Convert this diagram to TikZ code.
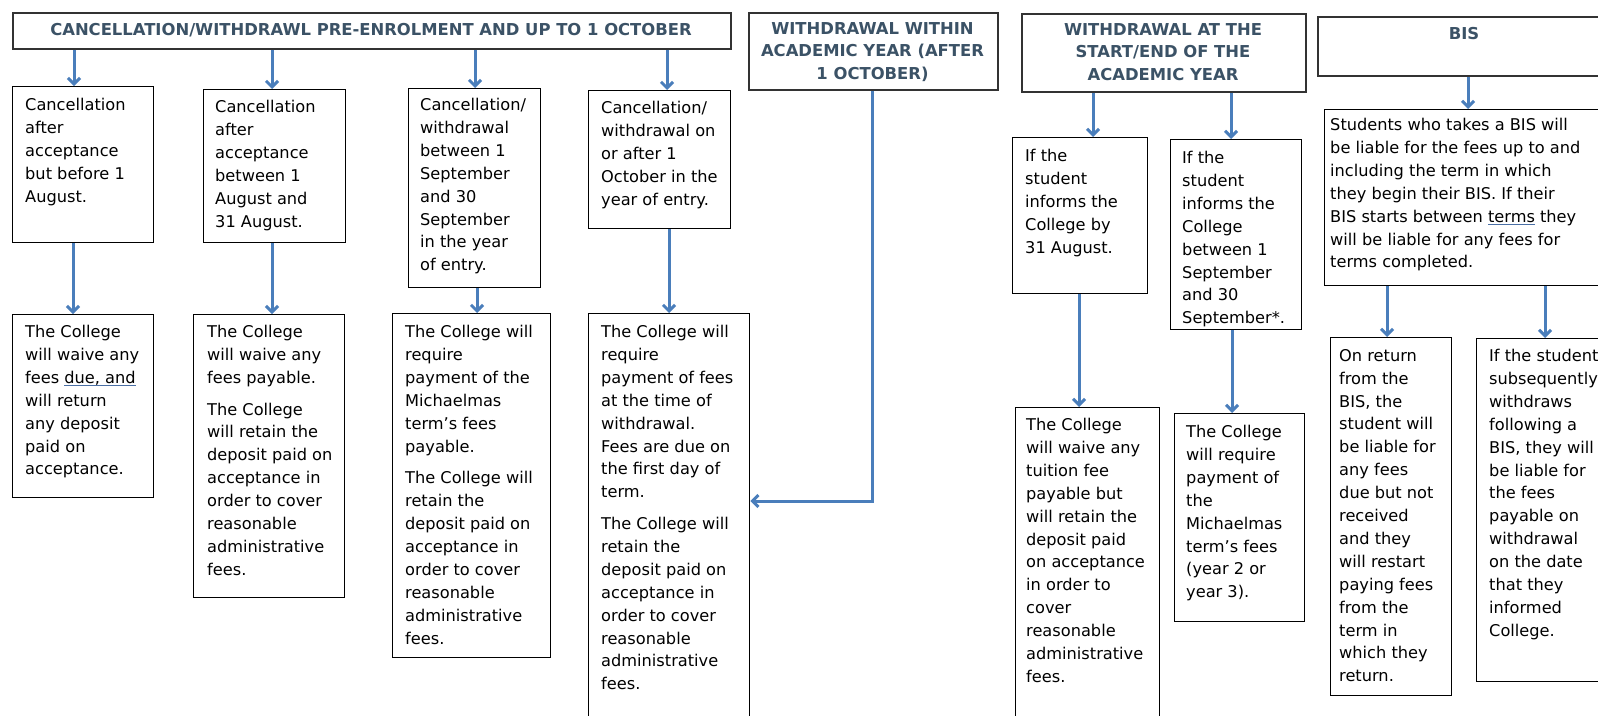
\documentclass[tikz,border=0pt]{standalone}
\usepackage{fontspec}
\setmainfont{DejaVu Sans}
\usetikzlibrary{arrows.meta}
\definecolor{arrowblue}{HTML}{4A7EBB}
\definecolor{headtext}{HTML}{3B5266}
\definecolor{headline}{HTML}{333333}
\definecolor{gram}{HTML}{4A6FA5}
\newcommand\gramu[1]{\setbox0=\hbox{#1}\rlap{\color{gram}\rule[-3pt]{\wd0}{0.9pt}}\box0\relax}
\begin{document}
\begin{tikzpicture}[x=1pt,y=-1pt,
  box/.style={draw=black,line width=1.3pt,rectangle,inner sep=0pt,anchor=north west},
  hbox/.style={draw=headline,line width=1.5pt,rectangle,inner sep=0pt,anchor=north west},
  txt/.style={inner sep=0pt,anchor=north west,align=left,text=black,font=\fontsize{16.2}{22.9}\selectfont},
  htxt/.style={inner sep=0pt,anchor=north,align=center,text=headtext,font=\fontsize{16.4}{22.6}\selectfont\bfseries},
  arr/.style={draw=arrowblue,line width=3pt,-{Straight Barb[length=6pt,width=12pt]}}]
\useasboundingbox (0,0) rectangle (1598,715);
\clip (0,0) rectangle (1598,715);
\fill[white] (0,0) rectangle (1598,715);

% headers
\node[hbox,minimum width=718pt,minimum height=36pt] (h1) at (12,12) {};
\node[htxt] (h1t) at (371,23) {CANCELLATION/WITHDRAWL PRE-ENROLMENT AND UP TO 1 OCTOBER};
\node[hbox,minimum width=249pt,minimum height=77pt] (h2) at (748,12) {};
\node[htxt] (h2t) at (872.5,22) {WITHDRAWAL WITHIN\\ACADEMIC YEAR (AFTER\\1 OCTOBER)};
\node[hbox,minimum width=284pt,minimum height=78pt] (h3) at (1021,13) {};
\node[htxt] (h3t) at (1163,23) {WITHDRAWAL AT THE\\START/END OF THE\\ACADEMIC YEAR};
\node[hbox,minimum width=294pt,minimum height=59pt] (h4) at (1317,16) {};
\node[htxt] (h4t) at (1464,27) {BIS};

% row A
\node[box,minimum width=141pt,minimum height=156pt] (a1) at (12,86) {};
\node[txt] (a1t) at (25,98) {Cancellation\\after\\acceptance\\but before 1\\August.};
\node[box,minimum width=142pt,minimum height=153pt] (a2) at (203,89) {};
\node[txt] (a2t) at (215,100) {Cancellation\\after\\acceptance\\between 1\\August and\\31 August.};
\node[box,minimum width=132pt,minimum height=199pt] (a3) at (408,88) {};
\node[txt] (a3t) at (420,98) {Cancellation/\\withdrawal\\between 1\\September\\and 30\\September\\in the year\\of entry.};
\node[box,minimum width=142pt,minimum height=138pt] (a4) at (588,90) {};
\node[txt] (a4t) at (601,101) {Cancellation/\\withdrawal on\\or after 1\\October in the\\year of entry.};

% row B
\node[box,minimum width=141pt,minimum height=183pt] (b1) at (12,314) {};
\node[txt] (b1t) at (25,325) {The College\\will waive any\\fees \gramu{due, and}\\will return\\any deposit\\paid on\\acceptance.};
\node[box,minimum width=151pt,minimum height=283pt] (b2) at (193,314) {};
\node[txt] (b2t) at (207,325) {The College\\will waive any\\fees payable.\\[8.8pt]The College\\will retain the\\deposit paid on\\acceptance in\\order to cover\\reasonable\\administrative\\fees.};
\node[box,minimum width=158pt,minimum height=344pt] (b3) at (392,313) {};
\node[txt] (b3t) at (405,325) {The College will\\require\\payment of the\\Michaelmas\\term’s fees\\payable.\\[8.8pt]The College will\\retain the\\deposit paid on\\acceptance in\\order to cover\\reasonable\\administrative\\fees.};
\node[box,minimum width=161pt,minimum height=420pt] (b4) at (588,313) {};
\node[txt] (b4t) at (601,325) {The College will\\require\\payment of fees\\at the time of\\withdrawal.\\Fees are due on\\the first day of\\term.\\[8.8pt]The College will\\retain the\\deposit paid on\\acceptance in\\order to cover\\reasonable\\administrative\\fees.};

% right part
\node[box,minimum width=135pt,minimum height=156pt] (c1) at (1012,137) {};
\node[txt] (c1t) at (1025,149) {If the\\student\\informs the\\College by\\31 August.};
\node[box,minimum width=131pt,minimum height=190pt] (c2) at (1170,139) {};
\node[txt] (c2t) at (1182,151) {If the\\student\\informs the\\College\\between 1\\September\\and 30\\September*.};
\node[box,minimum width=144pt,minimum height=330pt] (d1) at (1015,407) {};
\node[txt] (d1t) at (1026,418) {The College\\will waive any\\tuition fee\\payable but\\will retain the\\deposit paid\\on acceptance\\in order to\\cover\\reasonable\\administrative\\fees.};
\node[box,minimum width=130pt,minimum height=208pt] (d2) at (1174,413) {};
\node[txt] (d2t) at (1186,425) {The College\\will require\\payment of\\the\\Michaelmas\\term’s fees\\(year 2 or\\year 3).};
\node[box,minimum width=294pt,minimum height=176pt] (s) at (1324,109) {};
\node[txt] (st) at (1330,118) {Students who takes a BIS will\\be liable for the fees up to and\\including the term in which\\they begin their BIS. If their\\BIS starts between \gramu{terms} they\\will be liable for any fees for\\terms completed.};
\node[box,minimum width=121pt,minimum height=358pt] (e1) at (1330,337) {};
\node[txt] (e1t) at (1339,349) {On return\\from the\\BIS, the\\student will\\be liable for\\any fees\\due but not\\received\\and they\\will restart\\paying fees\\from the\\term in\\which they\\return.};
\node[box,minimum width=150pt,minimum height=343pt] (e2) at (1476,338) {};
\node[txt] (e2t) at (1489,349) {If the student\\subsequently\\withdraws\\following a\\BIS, they will\\be liable for\\the fees\\payable on\\withdrawal\\on the date\\that they\\informed\\College.};

% arrow columns
\coordinate (x1) at (74,0);
\coordinate (x2) at (272,0);
\coordinate (x3) at (475,0);
\coordinate (x4) at (667,0);
\coordinate (y1) at (73,0);
\coordinate (y2) at (272,0);
\coordinate (y3) at (477,0);
\coordinate (y4) at (669,0);
\coordinate (z1) at (1093,0);
\coordinate (z2) at (1231,0);
\coordinate (w1) at (1079,0);
\coordinate (w2) at (1232,0);
\coordinate (v0) at (1468,0);
\coordinate (v1) at (1387,0);
\coordinate (v2) at (1545,0);
\coordinate (k) at (872,501);

\draw[arr] (h1.south -| x1) -- (a1.north -| x1);
\draw[arr] (h1.south -| x2) -- (a2.north -| x2);
\draw[arr] (h1.south -| x3) -- (a3.north -| x3);
\draw[arr] (h1.south -| x4) -- (a4.north -| x4);
\draw[arr] (a1.south -| y1) -- (b1.north -| y1);
\draw[arr] (a2.south -| y2) -- (b2.north -| y2);
\draw[arr] (a3.south -| y3) -- (b3.north -| y3);
\draw[arr] (a4.south -| y4) -- (b4.north -| y4);
\draw[arr] (h2.south -| k) -- (k) -- (k -| b4.east);
\draw[arr] (h3.south -| z1) -- (c1.north -| z1);
\draw[arr] (h3.south -| z2) -- (c2.north -| z2);
\draw[arr] (c1.south -| w1) -- (d1.north -| w1);
\draw[arr] (c2.south -| w2) -- (d2.north -| w2);
\draw[arr] (h4.south -| v0) -- (s.north -| v0);
\draw[arr] (s.south -| v1) -- (e1.north -| v1);
\draw[arr] (s.south -| v2) -- (e2.north -| v2);
\end{tikzpicture}
\end{document}
